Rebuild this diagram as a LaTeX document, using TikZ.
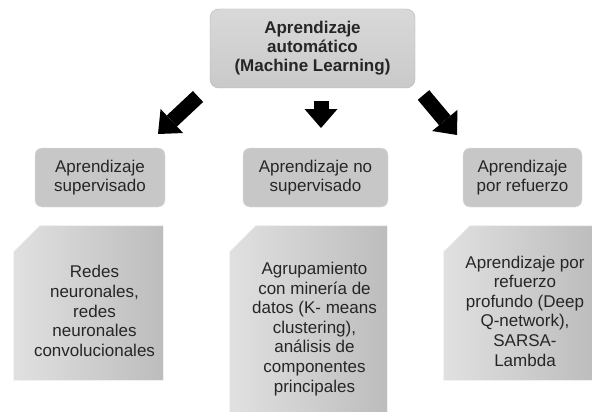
\documentclass[tikz,border=0pt]{standalone}
\usepackage{fontspec}
\setmainfont{Liberation Sans}
\usetikzlibrary{arrows.meta}

\begin{document}
\begin{tikzpicture}[x=1pt,y=-1pt, %Unidades en puntos, eje y hacia abajo
	raiz/.style={draw=black!30, rounded corners=9pt, top color=black!15, bottom color=black!21, minimum width=205pt, minimum height=79pt, align=center, text=black!85, font=\fontsize{17}{19}\selectfont\bfseries},
	tipo/.style={draw=black!12, rounded corners=7pt, fill=black!22, minimum height=59pt, align=center, text=black!85, font=\fontsize{17}{18.3}\selectfont},
	caja/.style={inner sep=0pt},
	relleno/.style={left color=black!12, right color=black!26, draw=black!10},
	texto/.style={align=center, text=black!85, font=\fontsize{17}{19.6}\selectfont},
	flecha/.style={line width=15pt, -{Triangle[length=19pt, width=33pt, line width=0pt]}}]
	\clip (0,0) rectangle (592,412); %Marco de la figura
	\fill[white] (0,0) rectangle (592,412); %Fondo
		%Cajas
	\node[raiz] (ml) at (312.5,48.5) {Aprendizaje\\automático\\(Machine Learning)}; %Caja principal
	\node[tipo, minimum width=130pt] (sup) at (100,177.5) {Aprendizaje\\supervisado}; %Supervisado
	\node[tipo, minimum width=145pt] (nosup) at (315.5,177.5) {Aprendizaje no\\supervisado}; %No supervisado
	\node[tipo, minimum width=119pt] (ref) at (522.5,177.5) {Aprendizaje\\por refuerzo}; %Por refuerzo
	\node[caja, minimum width=149pt, minimum height=154pt] (ejsup) at (88.5,303) {}; %Ejemplos supervisado
	\node[caja, minimum width=157pt, minimum height=204pt] (ejnosup) at (308.5,328) {}; %Ejemplos no supervisado
	\node[caja, minimum width=150pt, minimum height=154pt] (ejref) at (519,303) {}; %Ejemplos por refuerzo
	\foreach \n in {ejsup,ejnosup,ejref} %Esquina cortada arriba a la izquierda
		\path[relleno] ([yshift=-26pt]\n.north west) -- ([xshift=26pt]\n.north west) -- (\n.north east) -- (\n.south east) -- (\n.south west) -- cycle;
		%Textos
	\node[texto] (tsup) at ([shift={(6,8)}]ejsup.center) {Redes\\neuronales,\\redes\\neuronales\\convolucionales}; %Texto izquierdo
	\node[texto] (tnosup) at ([shift={(6,1)}]ejnosup.center) {Agrupamiento\\con minería de\\datos (K- means\\clustering),\\análisis de\\componentes\\principales}; %Texto central
	\node[texto] (tref) at ([shift={(6,8)}]ejref.center) {Aprendizaje por\\refuerzo\\profundo (Deep\\Q-network),\\SARSA-\\Lambda}; %Texto derecho
		%Flechas
	\coordinate (f1a) at (198,96.5); \coordinate (f1b) at (158,134); %Flecha izquierda
	\coordinate (f2a) at (321,101); \coordinate (f2b) at (321,128); %Flecha central
	\coordinate (f3a) at (423.5,95); \coordinate (f3b) at (457,135); %Flecha derecha
	\draw[flecha] (f1a) -- (f1b);
	\draw[flecha] (f2a) -- (f2b);
	\draw[flecha] (f3a) -- (f3b);
\end{tikzpicture}
\end{document}
